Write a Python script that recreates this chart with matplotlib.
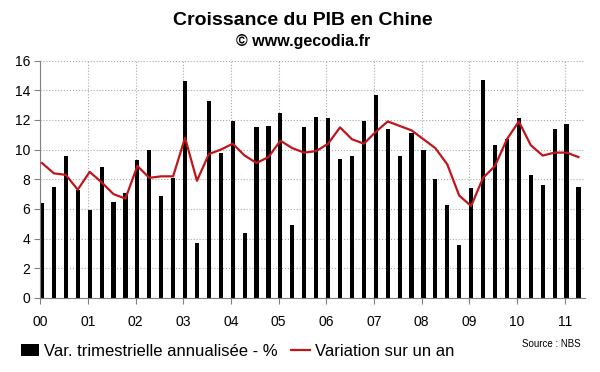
import numpy as np
import matplotlib.pyplot as plt
from matplotlib.patches import Patch
from matplotlib.lines import Line2D

plt.rcParams['font.family'] = ['Liberation Sans', 'DejaVu Sans']

# quarterly data, 2000Q1 -> 2011Q2
years = ['00', '01', '02', '03', '04', '05', '06', '07', '08', '09', '10', '11']
var_trim = [6.4, 7.5, 9.6, 7.3, 5.9, 8.8, 6.5, 7.1, 9.3, 10.0, 6.9, 8.1,
            14.6, 3.7, 13.3, 9.8, 11.9, 4.4, 11.5, 11.6, 12.5, 4.9, 11.5, 12.2,
            12.1, 9.4, 9.6, 11.9, 13.7, 11.4, 9.6, 11.1, 10.0, 8.0, 6.3, 3.6,
            7.4, 14.7, 10.3, 10.7, 12.1, 8.3, 7.6, 11.4, 11.7, 7.5]
var_an = [9.1, 8.4, 8.3, 7.3, 8.5, 7.8, 7.0, 6.7, 8.9, 8.1, 8.2, 8.2,
          10.8, 7.9, 9.7, 10.0, 10.4, 9.6, 9.1, 9.5, 10.6, 10.1, 9.8, 9.9,
          10.4, 11.5, 10.7, 10.4, 11.2, 11.9, 11.6, 11.3, 10.7, 10.1, 9.0, 6.9,
          6.2, 8.1, 8.9, 10.7, 11.9, 10.3, 9.6, 9.8, 9.8, 9.5]

x = np.arange(len(var_trim)) + 0.15
red = '#c0161b'

fig = plt.figure(figsize=(6, 3.72), dpi=100)
ax = fig.add_axes([0.067, 0.199, 0.908, 0.638])

ax.bar(x, var_trim, width=0.35, color='black', zorder=2)
ax.plot(x, var_an, color=red, lw=1.6, zorder=3)

ax.set_xlim(0, 45.7)
ax.set_ylim(0, 16)
ax.set_yticks(range(0, 17, 2))
ax.set_xticks(np.arange(len(years)) * 4)
ax.set_xticklabels(years)
ax.tick_params(axis='y', labelsize=10, length=4, color='gray', pad=3)
ax.tick_params(axis='x', labelsize=10, length=4, color='gray', pad=8)

ax.grid(True, ls=':', color='#aaaaaa', lw=0.8, zorder=0)
ax.set_axisbelow(True)
for s in ['top', 'right']:
    ax.spines[s].set_visible(False)
for s in ['left', 'bottom']:
    ax.spines[s].set_color('gray')

fig.text(0.505, 0.946, 'Croissance du PIB en Chine', ha='center', va='center',
         fontsize=14, fontweight='bold')
fig.text(0.505, 0.888, '© www.gecodia.fr', ha='center', va='center',
         fontsize=11.5, fontweight='bold')

handles = [Patch(facecolor='black'), Line2D([], [], color=red, lw=1.6)]
labels = ['Var. trimestrielle annualisée - %', 'Variation sur un an']
fig.legend(handles, labels, loc='center left', bbox_to_anchor=(0.01, 0.056),
           ncol=2, frameon=False, fontsize=12, handlelength=1.1,
           handletextpad=0.3, columnspacing=0.8)
fig.text(0.967, 0.075, 'Source : NBS', ha='right', va='center', fontsize=7)

fig.savefig('out.png', dpi=100)
